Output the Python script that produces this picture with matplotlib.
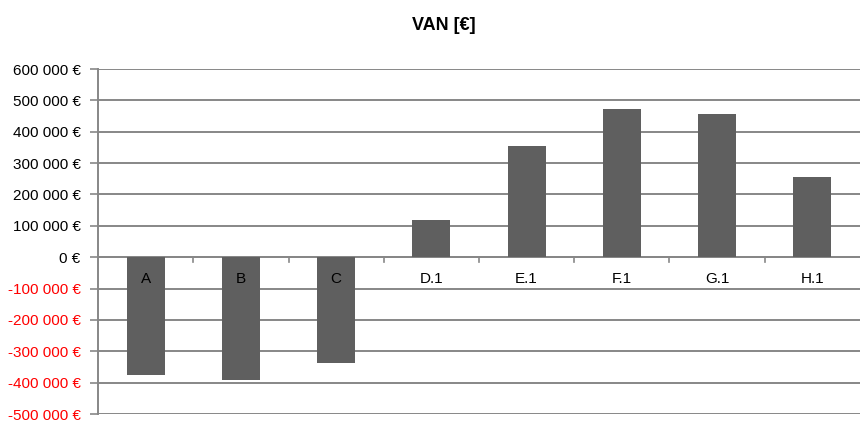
import matplotlib
matplotlib.use("Agg")
import matplotlib.pyplot as plt
from matplotlib.ticker import FuncFormatter

plt.rcParams['font.family'] = ['Liberation Sans', 'DejaVu Sans']

categories = ["A", "B", "C", "D.1", "E.1", "F.1", "G.1", "H.1"]
van = [-375000, -390000, -338000, 120000, 355000, 472000, 456000, 255000]
y_ticks = list(range(-500000, 600001, 100000))

fig = plt.figure(figsize=(8.61, 4.22), dpi=100)
ax = fig.add_axes([98 / 861, 8 / 422, 762 / 861, (414 - 69) / 422])

grid_color = "#878787"
bar_color = "#5f5f5f"

x = list(range(len(categories)))
ax.bar(x, van, width=0.4, color=bar_color, zorder=3)

ax.set_xlim(-0.5, len(categories) - 0.5)
ax.set_ylim(-500000, 600000)
ax.set_yticks(y_ticks)


def euro(v, pos):
    s = f"{abs(int(round(v))):,}".replace(",", " ")
    return ("-" if v < 0 else "") + s + " €"


ax.yaxis.set_major_formatter(FuncFormatter(euro))
ax.tick_params(axis="y", labelsize=11, length=5.5, width=1.2,
               direction="out", pad=7, color=grid_color)
for lab, v in zip(ax.get_yticklabels(), y_ticks):
    lab.set_color("#ff0000" if v < 0 else "#000000")

ax.grid(axis="y", color=grid_color, linewidth=1.4, zorder=0)
ax.set_axisbelow(True)

for side in ["top", "right", "bottom"]:
    ax.spines[side].set_visible(False)
ax.spines["left"].set_color(grid_color)
ax.spines["left"].set_linewidth(1.4)

# zero baseline with category separators
ax.axhline(0, color=grid_color, linewidth=1.4, zorder=2)
ax.set_xticks([])
for b in range(1, len(categories)):
    ax.plot([b - 0.5, b - 0.5], [0, -14000], color=grid_color,
            linewidth=1.2, zorder=2, clip_on=False)

# category names sit just under the zero line
for i, name in enumerate(categories):
    ax.text(i, -70000, name, ha="center", va="center", fontsize=11,
            color="#000000", zorder=4)

fig.text(444 / 861, 1 - 26 / 422, "VAN [€]", ha="center",
         va="center", fontsize=13, fontweight="bold")

fig.savefig("out.png", dpi=100)
